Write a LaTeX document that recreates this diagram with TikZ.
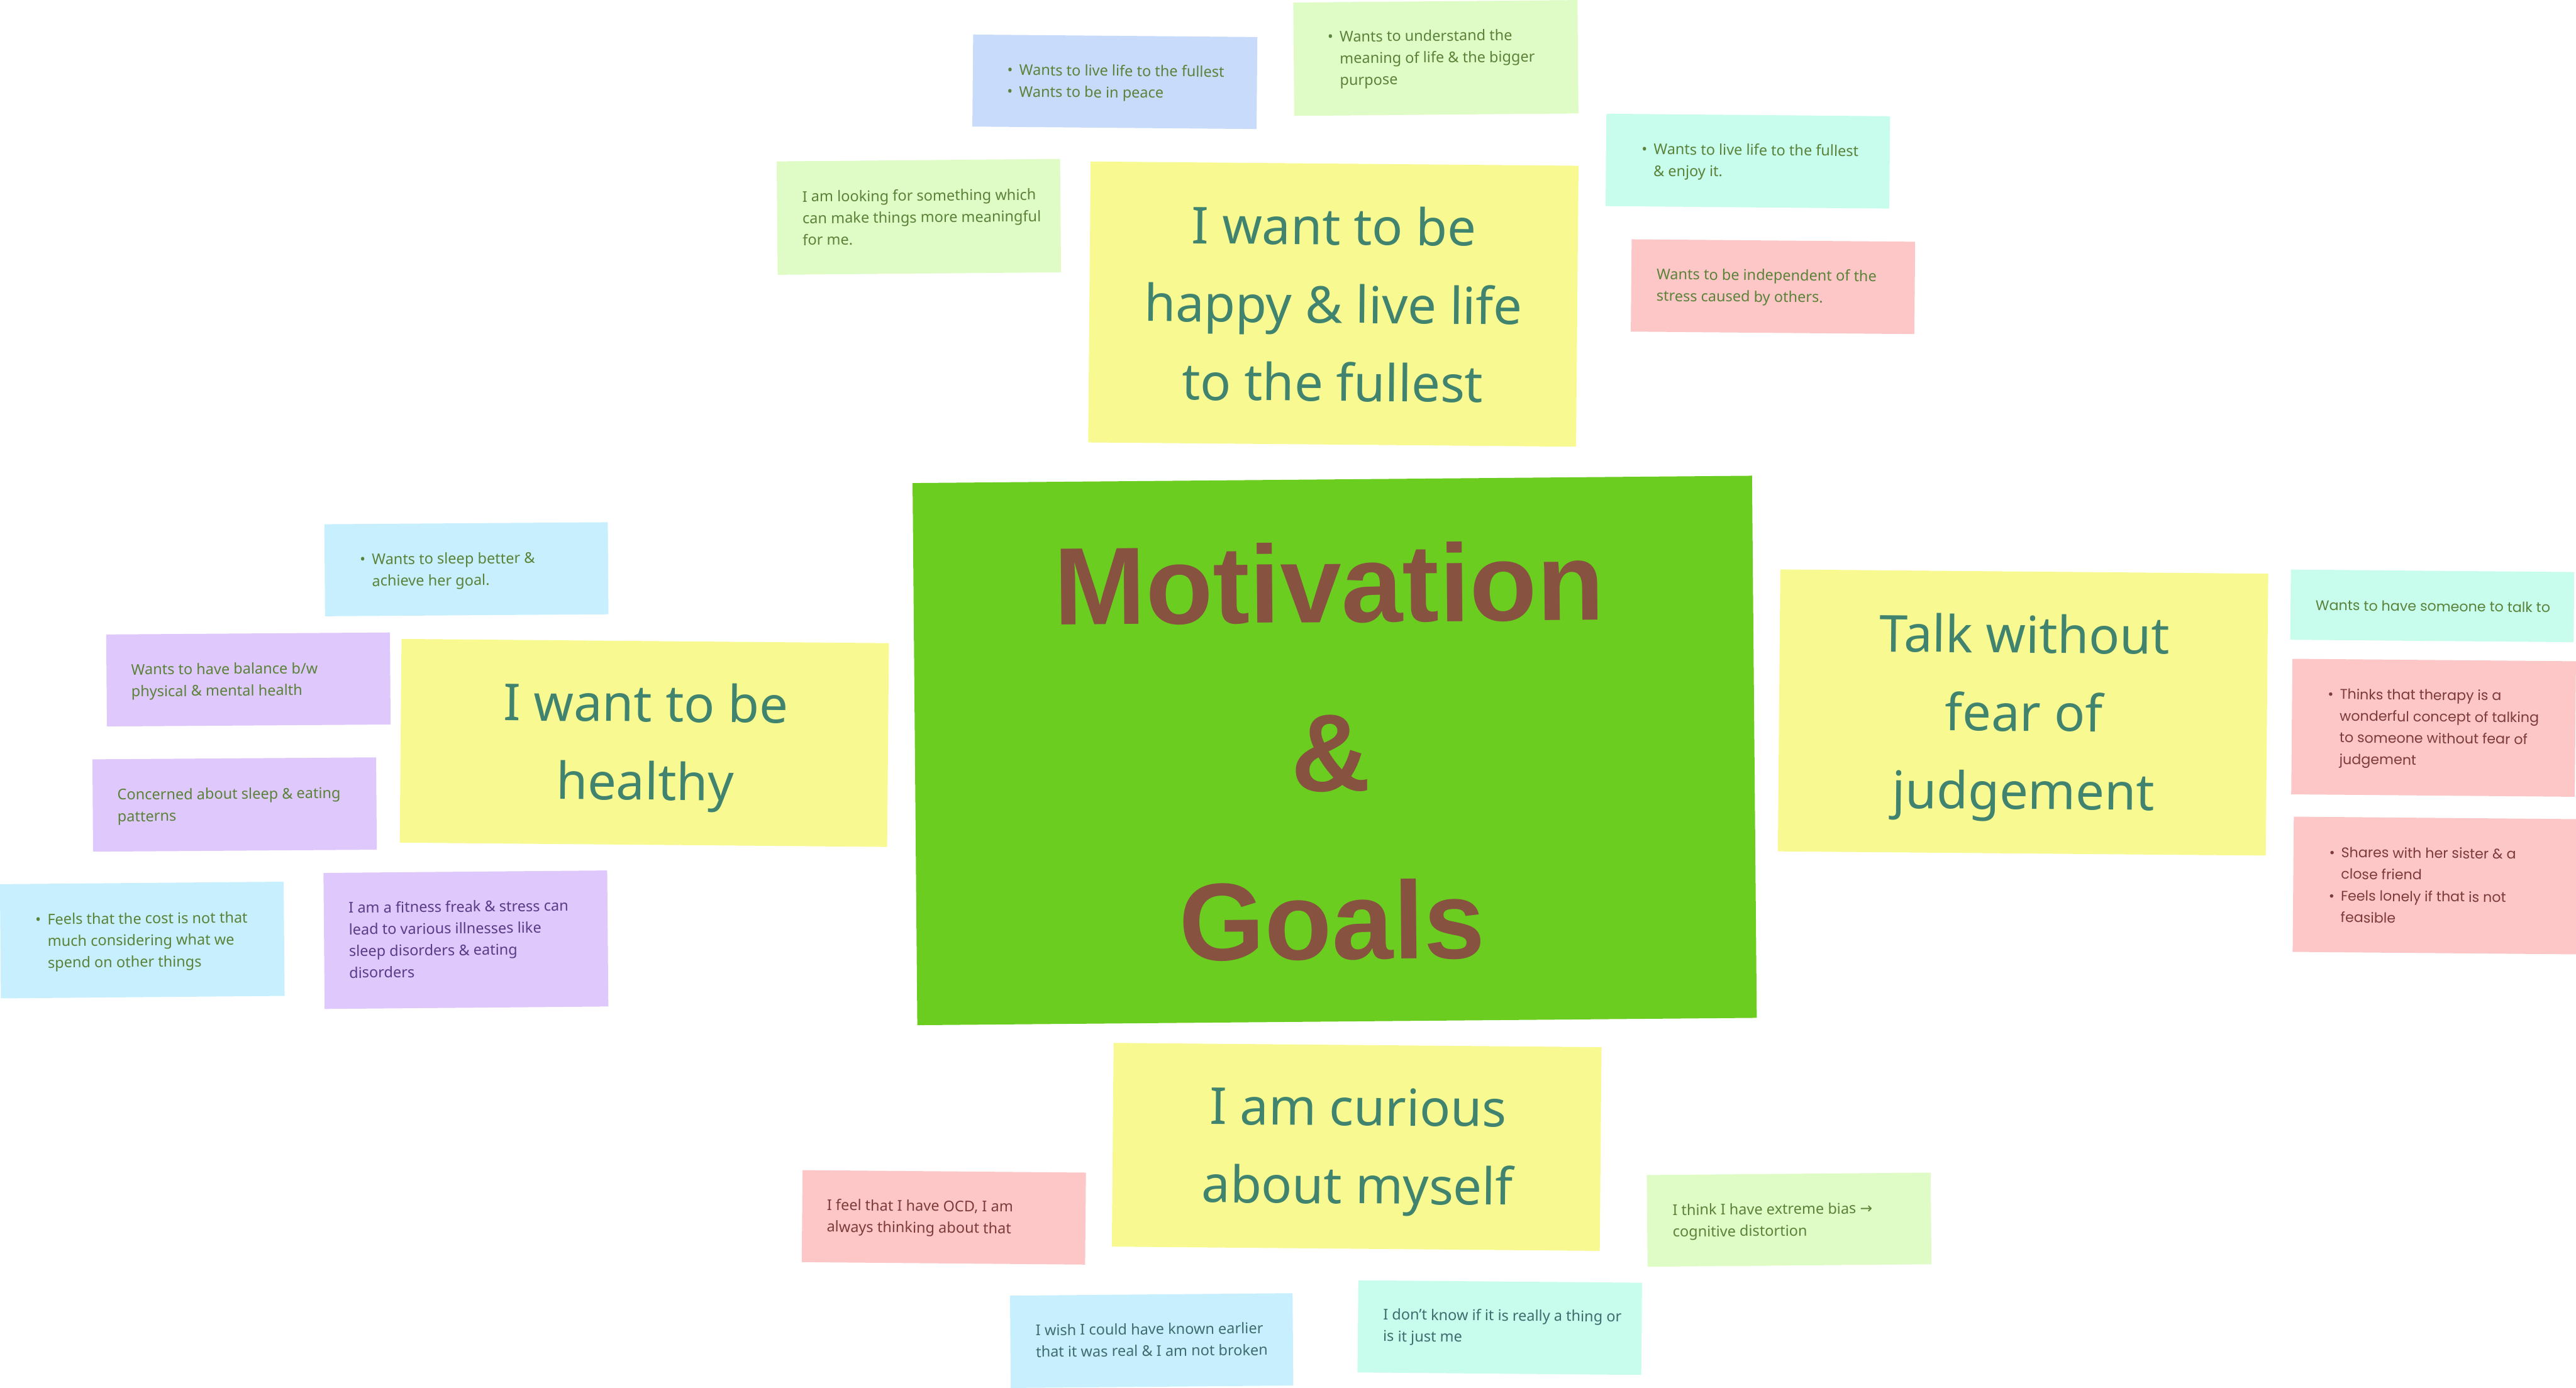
\documentclass[tikz,border=0pt]{standalone}
\usepackage{fontspec}
\setmainfont{Noto Sans}
\newfontfamily\titlefont{Liberation Sans}
\newfontfamily\widefont{Poppins}
\newfontfamily\symfont{DejaVu Sans}
\newcommand\lines[1]{\begin{tabular}[t]{@{}l@{}}#1\end{tabular}}
\newcommand\clines[1]{\begin{tabular}[t]{@{}c@{}}#1\end{tabular}}
\newcommand\bul{\makebox[7.3pt][l]{\textbullet}}
\newcommand\ind{\hspace*{7.3pt}}
\definecolor{cyellow}{HTML}{F8F991}
\definecolor{cgreen}{HTML}{6BCD1F}
\definecolor{cblue}{HTML}{C8DBFB}
\definecolor{clime}{HTML}{DFFCC6}
\definecolor{cmint}{HTML}{C8FDEE}
\definecolor{cpink}{HTML}{FDC7C7}
\definecolor{ccyan}{HTML}{C7EFFD}
\definecolor{clav}{HTML}{DFC8FB}
\definecolor{tteal}{HTML}{40836F}
\definecolor{tgreen}{HTML}{5B8239}
\definecolor{tred}{HTML}{7D3B3B}
\definecolor{tpurple}{HTML}{5A3B87}
\definecolor{tgray}{HTML}{3F6C6E}
\definecolor{tbrown}{HTML}{87523F}
\tikzset{
  paper/.style={inner sep=0pt, outer sep=0pt, draw=none, transform shape},
  notetext/.style={inner sep=0pt, anchor=base west, transform shape, text=tgreen,
    font=\fontsize{9}{13.2}\selectfont},
  widetext/.style={inner sep=0pt, anchor=base west, transform shape, text=tred,
    font=\widefont\fontsize{8.5}{13.2}\selectfont},
  bigtext/.style={inner sep=0pt, anchor=base, transform shape, text=tteal,
    font=\fontsize{31}{47.6}\selectfont},
}
\begin{document}
\begin{tikzpicture}[x=1pt,y=-1pt]
\useasboundingbox (0,0) rectangle (1568,844.5);

% A: happy
\begin{scope}[shift={(811.6,185.1)},rotate=-0.5]
\node[paper, fill=cyellow, minimum width=297pt, minimum height=171pt] (nA) at (0,0) {};
\node[bigtext] (tA) at (0,-36.1) {\clines{I want to be\\happy \& live life\\to the fullest}};
\end{scope}

% B: top blue
\begin{scope}[shift={(678.6,49.8)},rotate=-0.5]
\node[paper, fill=cblue, minimum width=173pt, minimum height=56pt] (nB) at (0,0) {};
\node[notetext] (tB) at (-65.7,-3.5) {\lines{\bul Wants to live life to the fullest\\\bul Wants to be in peace}};
\end{scope}

% C: top green
\begin{scope}[shift={(874,35.3)},rotate=0.5]
\node[paper, fill=clime, minimum width=173pt, minimum height=69pt] (nC) at (0,0) {};
\node[notetext] (tC) at (-66,-10.3) {\lines{\bul Wants to understand the\\\ind meaning of life \& the bigger\\\ind purpose}};
\end{scope}

% D: looking
\begin{scope}[shift={(559.3,132)},rotate=0.5]
\node[paper, fill=clime, minimum width=172.5pt, minimum height=69pt] (nD) at (0,0) {};
\node[notetext] (tD) at (-71,-9.7) {\lines{I am looking for something which\\can make things more meaningful\\for me.}};
\end{scope}

% E: enjoy
\begin{scope}[shift={(1063.9,98.1)},rotate=-0.5]
\node[paper, fill=cmint, minimum width=172.7pt, minimum height=56.2pt] (nE) at (0,0) {};
\node[notetext] (tE) at (-64.9,-3.6) {\lines{\bul Wants to live life to the fullest\\\ind \& enjoy it.}};
\end{scope}

% F: independent
\begin{scope}[shift={(1079.2,174.5)},rotate=-0.5]
\node[paper, fill=cpink, minimum width=172.6pt, minimum height=56.2pt] (nF) at (0,0) {};
\node[notetext] (tF) at (-71.1,-3.8) {\lines{Wants to be independent of the\\stress caused by others.}};
\end{scope}

% G: centre
\begin{scope}[shift={(812.4,456.8)},rotate=0.5]
\node[paper, fill=cgreen, minimum width=511pt, minimum height=330pt] (nG) at (0,0) {};
\node[inner sep=0pt, anchor=base, transform shape, text=tbrown,
  font=\titlefont\bfseries\fontsize{67}{102.6}\selectfont] (tG) at (-2.4,-78) {\clines{Motivation\\\&\\Goals}};
\end{scope}

% H: healthy
\begin{scope}[shift={(392.2,452.2)},rotate=-0.5]
\node[paper, fill=cyellow, minimum width=296.7pt, minimum height=124pt] (nH) at (0,0) {};
\node[bigtext] (tH) at (0.7,-12.9) {\clines{I want to be\\healthy}};
\end{scope}

% I: sleep better
\begin{scope}[shift={(283.9,346.5)},rotate=0.4]
\node[paper, fill=ccyan, minimum width=172.5pt, minimum height=56pt] (nI) at (0,0) {};
\node[notetext] (tI) at (-65,-3.3) {\lines{\bul Wants to sleep better \&\\\ind achieve her goal.}};
\end{scope}

% J: balance
\begin{scope}[shift={(151.2,413.6)},rotate=0.4]
\node[paper, fill=clav, minimum width=172.7pt, minimum height=56pt] (nJ) at (0,0) {};
\node[notetext] (tJ) at (-71.5,-3.3) {\lines{Wants to have balance b/w\\physical \& mental health}};
\end{scope}

% K: concerned
\begin{scope}[shift={(142.8,489.7)},rotate=0.4]
\node[paper, fill=clav, minimum width=172.7pt, minimum height=56.2pt] (nK) at (0,0) {};
\node[notetext] (tK) at (-71.5,-3.3) {\lines{Concerned about sleep \& eating\\patterns}};
\end{scope}

% L: cost
\begin{scope}[shift={(86.6,572.2)},rotate=0.5]
\node[paper, fill=ccyan, minimum width=172.7pt, minimum height=69.5pt] (nL) at (0,0) {};
\node[notetext] (tL) at (-65.1,-9.9) {\lines{\bul Feels that the cost is not that\\\ind much considering what we\\\ind spend on other things}};
\end{scope}

% M: fitness
\begin{scope}[shift={(283.6,572)},rotate=0.5]
\node[paper, fill=clav, minimum width=172.7pt, minimum height=82.8pt] (nM) at (0,0) {};
\node[notetext, text=tpurple] (tM) at (-71.4,-16.9) {\lines{I am a fitness freak \& stress can\\lead to various illnesses like\\sleep disorders \& eating\\disorders}};
\end{scope}

% N: talk
\begin{scope}[shift={(1231.4,433.7)},rotate=-0.5]
\node[paper, fill=cyellow, minimum width=297pt, minimum height=171.6pt] (nN) at (0,0) {};
\node[bigtext] (tN) at (0.6,-36.3) {\clines{Talk without\\fear of\\judgement}};
\end{scope}

% O: someone
\begin{scope}[shift={(1480.5,368.8)},rotate=-0.5]
\node[paper, fill=cmint, minimum width=172.5pt, minimum height=42.7pt] (nO) at (0,0) {};
\node[widetext, text=tgreen] (tO) at (-71.2,3.3) {Wants to have someone to talk to};
\end{scope}

% P: therapy
\begin{scope}[shift={(1481.3,443)},rotate=-0.5]
\node[paper, fill=cpink, minimum width=172.6pt, minimum height=82.5pt] (nP) at (0,0) {};
\node[widetext] (tP) at (-64.7,-16.9) {\lines{\bul Thinks that therapy is a\\\ind wonderful concept of talking\\\ind to someone without fear of\\\ind judgement}};
\end{scope}

% Q: sister
\begin{scope}[shift={(1482.3,539)},rotate=-0.5]
\node[paper, fill=cpink, minimum width=172.9pt, minimum height=82.3pt] (nQ) at (0,0) {};
\node[widetext] (tQ) at (-64.9,-16.6) {\lines{\bul Shares with her sister \& a\\\ind close friend\\\bul Feels lonely if that is not\\\ind feasible}};
\end{scope}

% R: curious
\begin{scope}[shift={(825.8,698.1)},rotate=-0.5]
\node[paper, fill=cyellow, minimum width=297pt, minimum height=124pt] (nR) at (0,0) {};
\node[bigtext] (tR) at (0.6,-13) {\clines{I am curious\\about myself}};
\end{scope}

% S: OCD
\begin{scope}[shift={(574.5,741)},rotate=-0.5]
\node[paper, fill=cpink, minimum width=172.5pt, minimum height=56pt] (nS) at (0,0) {};
\node[notetext, text=tred] (tS) at (-71.4,-3.7) {\lines{I feel that I have OCD, I am\\always thinking about that}};
\end{scope}

% T: wish
\begin{scope}[shift={(701,816)},rotate=0.5]
\node[paper, fill=ccyan, minimum width=172pt, minimum height=56.2pt] (nT) at (0,0) {};
\node[notetext, text=tgray] (tT) at (-70.7,-3.7) {\lines{I wish I could have known earlier\\that it was real \& I am not broken}};
\end{scope}

% U: don't know
\begin{scope}[shift={(912.9,808.1)},rotate=-0.5]
\node[paper, fill=cmint, minimum width=172.7pt, minimum height=56.1pt] (nU) at (0,0) {};
\node[notetext, text=tgray] (tU) at (-71.2,-4.2) {\lines{I don’t know if it is really a thing or\\is it just me}};
\end{scope}

% V: bias
\begin{scope}[shift={(1089,742.4)},rotate=0.5]
\node[paper, fill=clime, minimum width=172.8pt, minimum height=55.8pt] (nV) at (0,0) {};
\node[notetext] (tV) at (-71.1,-3.3) {\lines{I think I have extreme bias {\symfont →}\\cognitive distortion}};
\end{scope}

\end{tikzpicture}
\end{document}
